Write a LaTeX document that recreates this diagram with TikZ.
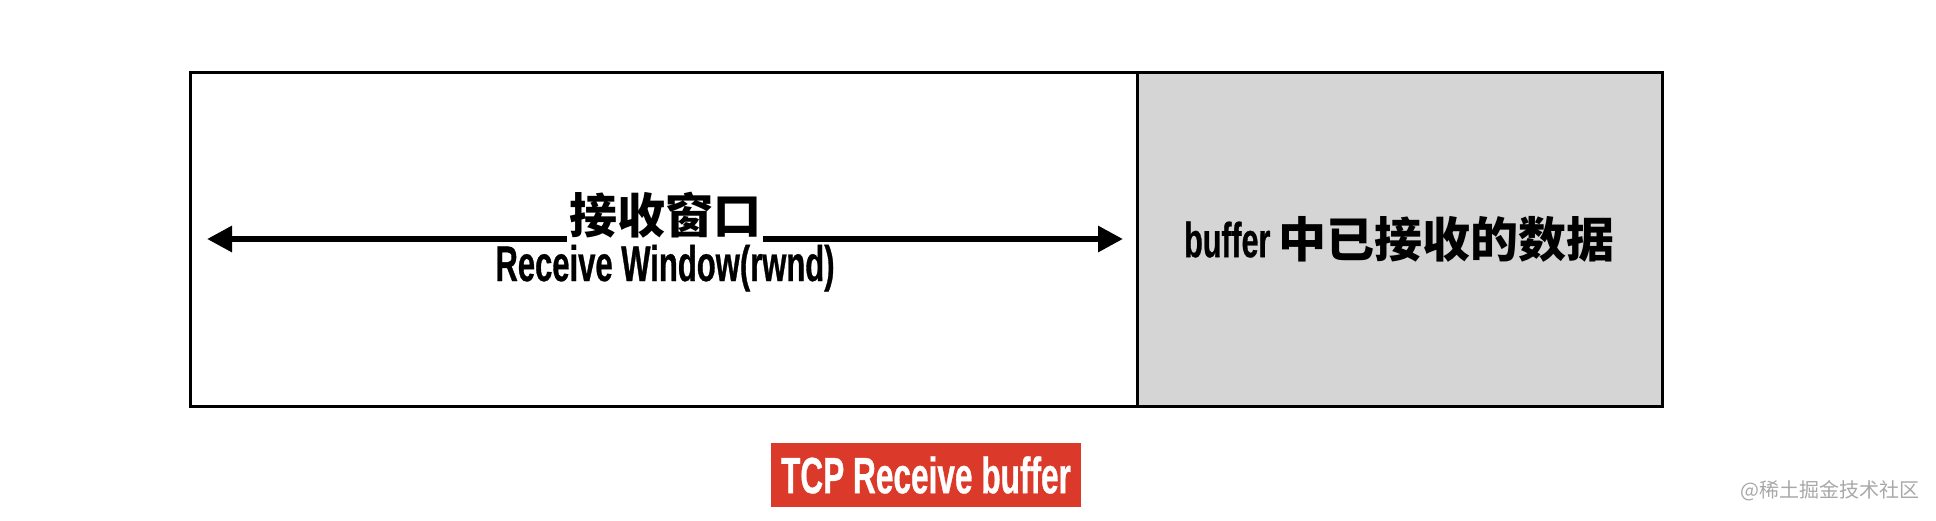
\documentclass[tikz,border=0pt]{standalone}
\usepackage{fontspec}
\usepackage{xcolor}
\usepackage{tikz}
\usetikzlibrary{calc,positioning,arrows.meta}
\newfontfamily\cjk{Noto Sans CJK SC}
\newfontfamily\narrow{Liberation Sans}[FakeStretch=0.62, BoldFeatures={FakeBold=0.6}]
\definecolor{bufgray}{RGB}{213,213,213}
\definecolor{tcpred}{RGB}{219,58,42}
\definecolor{markgray}{RGB}{168,168,168}

\begin{document}
\begin{tikzpicture}[x=0.5pt,y=-0.5pt]
\tikzstyle{cell}=[draw, line width=1.5pt, inner sep=0pt, outer sep=0pt, minimum height=167pt, anchor=north west]
\tikzstyle{lbl}=[inner sep=1pt, fill=white, text depth=4pt, font=\cjk\bfseries\fontsize{24}{28}\selectfont]
\tikzstyle{sub}=[inner sep=1pt, font=\narrow\bfseries\fontsize{25}{29}\selectfont]
\tikzstyle{tip}=[{Triangle[length=12.5pt,width=12.5pt]}-{Triangle[length=12.5pt,width=12.5pt]}]
\useasboundingbox (0,0) rectangle (1936,520);

\node[cell, minimum width=473.5pt] (W) at (190,72) {};
\node[cell, minimum width=262.5pt, fill=bufgray] (B) at (W.north east)
  {\narrow\bfseries\fontsize{24.5}{29}\selectfont buffer \cjk\bfseries\fontsize{24}{28}\selectfont 中已接收的数据};

\coordinate (L) at ($(W.west)+(17,0)$);
\coordinate (R) at ($(W.east)+(-14,0)$);
\draw[line width=3pt, tip] (L) -- (R) node[lbl, midway, anchor=base, yshift=3pt] (rw) {接收窗口};
\node[sub, anchor=base] (rwnd) at ($(L)!.5!(R)+(0,42)$) {Receive Window(rwnd)};

\node[fill=tcpred, text=white, inner sep=0pt, minimum width=155pt, minimum height=32pt,
  font=\narrow\bfseries\fontsize{25.5}{30}\selectfont] (tcp) at ($(W.south west)!.5!(B.south east)+(0,69)$) {TCP Receive buffer};

\node[text=markgray, inner sep=0pt, anchor=east, font=\cjk\fontsize{10}{12}\selectfont] (mark) at (1920,491) {@稀土掘金技术社区};
\end{tikzpicture}
\end{document}
